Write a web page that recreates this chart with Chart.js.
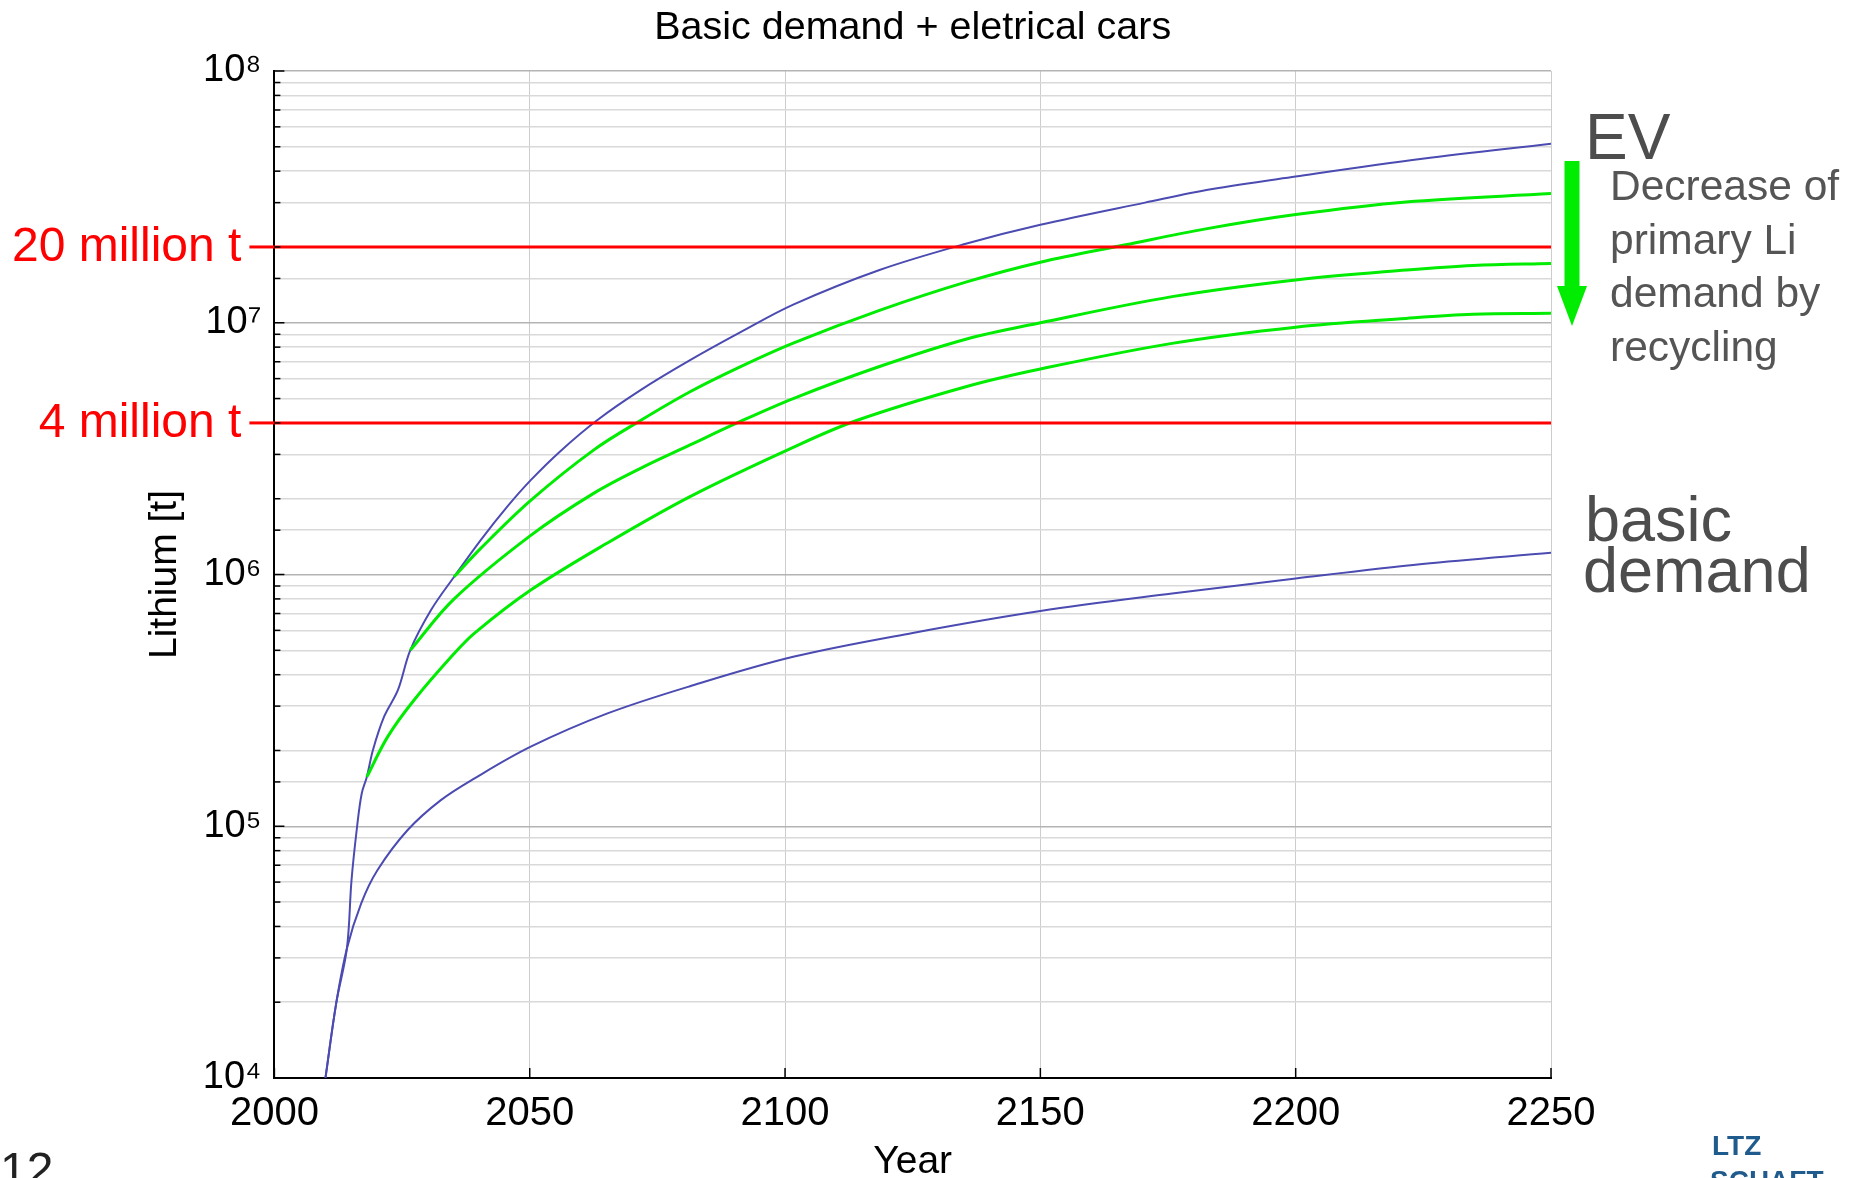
<!DOCTYPE html>
<html>
<head>
<meta charset="utf-8">
<script src="https://cdn.jsdelivr.net/npm/chart.js@4.4.1/dist/chart.umd.min.js"></script>
<style>html,body{margin:0;padding:0;background:#fff;overflow:hidden}</style>
</head>
<body>
<canvas id="c" width="1855" height="1178"></canvas>
<script>
// ---------- data ----------
const chartTitle = 'Basic demand + eletrical cars';
const xTicks = [2000, 2050, 2100, 2150, 2200, 2250];
const yTickLabels = {4: '10\u2074', 5: '10\u2075', 6: '10\u2076', 7: '10\u2077', 8: '10\u2078'};

const basicYears  = [2010, 2012.1, 2014.2, 2017.0, 2020.2, 2026.1, 2032.6, 2039.2, 2050.2, 2065.1, 2081.4, 2101.6, 2125, 2150, 2175.8, 2200, 2224.8, 2250];
const basicValues = [1.0e4, 1.98e4, 3.27e4, 4.94e4, 6.7e4, 9.66e4, 1.27e5, 1.55e5, 2.07e5, 2.8e5, 3.6e5, 4.71e5, 5.86e5, 7.16e5, 8.4e5, 9.64e5, 1.1e6, 1.22e6];

const evYears  = [2010, 2012.1, 2014.2, 2015.1, 2016.2, 2017.1, 2018.1, 2019.3, 2021.5, 2024.2, 2026.6, 2030.7, 2035.2, 2040.4, 2045.6, 2050.2, 2056, 2063.2, 2071.7, 2081.4, 2091.2, 2101.6, 2118.5, 2135.4, 2150, 2170.5, 2183.4, 2200, 2224.8, 2250];
const evValues = [1.0e4, 1.98e4, 3.27e4, 6.1e4, 1.0e5, 1.35e5, 1.57e5, 2.01e5, 2.73e5, 3.48e5, 5.0e5, 7.24e5, 9.8e5, 1.37e6, 1.86e6, 2.37e6, 3.09e6, 4.1e6, 5.4e6, 7.1e6, 9.15e6, 1.18e7, 1.62e7, 2.06e7, 2.45e7, 3.0e7, 3.39e7, 3.81e7, 4.48e7, 5.14e7];

const rec1Years  = [2035.2, 2040.4, 2050.2, 2062.5, 2071.7, 2081.4, 2091.2, 2101.6, 2118.5, 2135.4, 2150, 2166.7, 2182.4, 2200, 2221.6, 2250];
const rec1Values = [9.8e5, 1.27e6, 1.97e6, 3.12e6, 4.09e6, 5.32e6, 6.68e6, 8.3e6, 1.12e7, 1.45e7, 1.74e7, 2.04e7, 2.36e7, 2.69e7, 3.02e7, 3.26e7];

const rec2Years  = [2026.6, 2035.2, 2050.2, 2062.5, 2071.7, 2081.4, 2090.6, 2101.6, 2118.5, 2135.4, 2150, 2175.8, 2200, 2221.6, 2234.7, 2250];
const rec2Values = [5.0e5, 8.0e5, 1.43e6, 2.1e6, 2.64e6, 3.27e6, 4.0e6, 5.0e6, 6.7e6, 8.6e6, 1.0e7, 1.27e7, 1.48e7, 1.62e7, 1.69e7, 1.72e7];

const rec3Years  = [2018.1, 2022.2, 2027.4, 2035.2, 2039.2, 2050.2, 2065.1, 2081.4, 2101.6, 2114, 2135.4, 2150, 2175.8, 2200, 2221.6, 2234.7, 2250];
const rec3Values = [1.57e5, 2.27e5, 3.18e5, 4.85e5, 5.85e5, 8.67e5, 1.33e6, 2.04e6, 3.2e6, 4.09e6, 5.57e6, 6.55e6, 8.28e6, 9.6e6, 1.04e7, 1.08e7, 1.09e7];

const limitValues = [2e7, 4e6];
const limitLabels = ['20 million t', '4 million t'];
const limitYears  = [2000, 2250];

const evLabel = 'EV';
const recyclingText = ['Decrease of', 'primary Li', 'demand by', 'recycling'];
const basicLabel = ['basic', 'demand'];
const pageNumber = '12';
const logoText = ['LTZ', 'SCHAFT'];

// ---------- helpers ----------
const FONT = "'Liberation Sans', Arial, Helvetica, sans-serif";
const BLUE = '#4b4bb2';
const GREEN = '#00ec00';
const RED = '#ff0000';
const pts = (xs, ys) => xs.map((x, i) => ({x: x, y: ys[i]}));
const isPow10 = v => { const e = Math.log10(v); return Math.abs(e - Math.round(e)) < 1e-9; };

const lineDs = (label, data, color, width) => ({
  label, data, borderColor: color, borderWidth: width, pointRadius: 0,
  fill: false, tension: 0.35
});

const datasets = [
  ...limitValues.map((v, i) => ({label: limitLabels[i], data: limitYears.map(x => ({x, y: v})),
    borderColor: RED, borderWidth: 3, pointRadius: 0, fill: false})),
  lineDs('Recycling 1', pts(rec1Years, rec1Values), GREEN, 3),
  lineDs('Recycling 2', pts(rec2Years, rec2Values), GREEN, 3),
  lineDs('Recycling 3', pts(rec3Years, rec3Values), GREEN, 3),
  lineDs('EV', pts(evYears, evValues), BLUE, 2),
  lineDs('basic demand', pts(basicYears, basicValues), BLUE, 2)
];

// inward tick marks (Matlab style)
const inwardTicks = {
  id: 'inwardTicks',
  afterDatasetsDraw(chart) {
    const {ctx, chartArea: a, scales: {x, y}} = chart;
    ctx.save();
    ctx.strokeStyle = '#000';
    ctx.lineWidth = 1.5;
    y.ticks.forEach(t => {
      const py = y.getPixelForValue(t.value);
      const len = isPow10(t.value) ? 10 : 6;
      ctx.beginPath(); ctx.moveTo(a.left, py); ctx.lineTo(a.left + len, py); ctx.stroke();
    });
    x.ticks.forEach(t => {
      const px = x.getPixelForValue(t.value);
      ctx.beginPath(); ctx.moveTo(px, a.bottom); ctx.lineTo(px, a.bottom - 10); ctx.stroke();
    });
    ctx.restore();
  }
};

// texts and annotations
const annotations = {
  id: 'annotations',
  afterDraw(chart) {
    const {ctx, chartArea: a, scales: {y}} = chart;
    ctx.save();
    // title
    ctx.fillStyle = '#000';
    ctx.font = `39.5px ${FONT}`;
    ctx.textAlign = 'center';
    ctx.textBaseline = 'middle';
    ctx.fillText(chartTitle, (a.left + a.right) / 2, 28);

    // limit labels + stubs
    limitValues.forEach((v, i) => {
      const py = y.getPixelForValue(v);
      ctx.strokeStyle = RED; ctx.lineWidth = 3;
      ctx.beginPath(); ctx.moveTo(a.left - 25, py); ctx.lineTo(a.left, py); ctx.stroke();
      ctx.fillStyle = RED;
      ctx.font = `48px ${FONT}`;
      ctx.textAlign = 'right';
      ctx.textBaseline = 'middle';
      ctx.fillText(limitLabels[i], a.left - 33, py + 1);
    });

    // right-side labels
    ctx.textAlign = 'left';
    ctx.textBaseline = 'alphabetic';
    ctx.fillStyle = '#4d4d4d';
    ctx.font = `64px ${FONT}`;
    ctx.fillText(evLabel, a.right + 34, 159);

    ctx.fillStyle = '#555';
    ctx.font = `42.5px ${FONT}`;
    recyclingText.forEach((t, i) => ctx.fillText(t, a.right + 59, 200 + i * 53.5));

    ctx.fillStyle = '#4d4d4d';
    ctx.font = `63px ${FONT}`;
    ctx.fillText(basicLabel[0], a.right + 34, 541);
    ctx.fillText(basicLabel[1], a.right + 32, 592);

    // green arrow
    const cx = a.right + 21;
    ctx.fillStyle = GREEN;
    ctx.beginPath();
    ctx.moveTo(cx - 7.5, 161);
    ctx.lineTo(cx + 7.5, 161);
    ctx.lineTo(cx + 7.5, 286);
    ctx.lineTo(cx + 15, 286);
    ctx.lineTo(cx, 326);
    ctx.lineTo(cx - 15, 286);
    ctx.lineTo(cx - 7.5, 286);
    ctx.closePath();
    ctx.fill();

    // page number & logo
    ctx.fillStyle = '#222';
    ctx.font = `48px ${FONT}`;
    ctx.fillText(pageNumber, 0, 1186);
    ctx.fillStyle = '#1f5b8c';
    ctx.font = `bold 28px ${FONT}`;
    ctx.fillText(logoText[0], 1712, 1155);
    ctx.fillText(logoText[1], 1710, 1190);
    ctx.restore();
  }
};

new Chart(document.getElementById('c'), {
  type: 'line',
  data: {datasets},
  options: {
    responsive: false,
    animation: false,
    devicePixelRatio: 1,
    layout: {padding: {left: 140, top: 71, right: 304, bottom: 0}},
    plugins: {legend: {display: false}, tooltip: {enabled: false}, title: {display: false}},
    scales: {
      x: {
        type: 'linear', min: xTicks[0], max: xTicks[xTicks.length - 1],
        afterBuildTicks: s => { s.ticks = xTicks.map(v => ({value: v})); },
        ticks: {callback: v => String(v), font: {family: FONT, size: 40}, color: '#000',
                padding: 12, maxRotation: 0, autoSkip: false},
        grid: {color: '#cdcdcd', lineWidth: 1, drawTicks: false},
        border: {display: true, color: '#000', width: 2},
        title: {display: true, text: 'Year', font: {family: FONT, size: 39, lineHeight: 0.8}, color: '#000', padding: 0},
        afterFit: s => { s.height = 100; }
      },
      y: {
        type: 'logarithmic', min: 1e4, max: 1e8,
        ticks: {
          callback: v => { if (!isPow10(v)) return ''; return yTickLabels[Math.round(Math.log10(v))]; },
          font: {family: FONT, size: 38}, color: '#000', padding: 13, autoSkip: false
        },
        grid: {
          color: c => (c.tick && isPow10(c.tick.value)) ? '#b4b4b4' : '#d9d9d9',
          lineWidth: 1.5, drawTicks: false
        },
        border: {display: true, color: '#000', width: 2},
        title: {display: true, text: 'Lithium [t]', font: {family: FONT, size: 39, lineHeight: 1}, color: '#000', padding: {top: 6, bottom: 0}},
        afterFit: s => { s.width = 134.4; }
      }
    }
  },
  plugins: [inwardTicks, annotations]
});
</script>
</body>
</html>
